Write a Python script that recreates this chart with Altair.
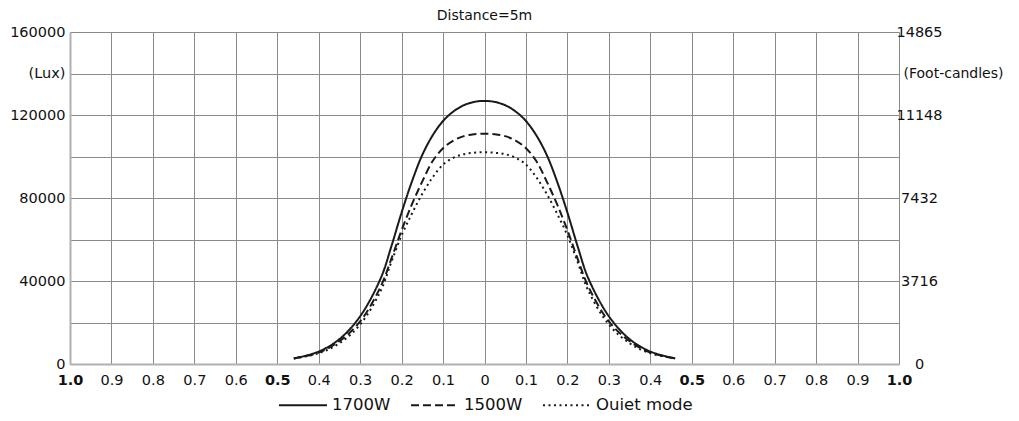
import altair as alt
import pandas as pd

title_text = "Distance=5m"
series_names = ["1700W", "1500W", "Ouiet mode"]

offset_m = [-0.46, -0.4, -0.35, -0.3, -0.25, -0.225, -0.2, -0.175, -0.15, -0.125, -0.1, -0.075, -0.05, -0.025, 0.0,
            0.025, 0.05, 0.075, 0.1, 0.125, 0.15, 0.175, 0.2, 0.225, 0.25, 0.3, 0.35, 0.4, 0.46]
lux_1700w = [2700, 6000, 12000, 23000, 41500, 56500, 73000, 88000, 100800, 110200, 117100, 121700, 124700, 126300, 126800,
             126300, 124700, 121700, 117100, 110200, 100800, 88000, 73000, 56500, 41500, 23000, 12000, 6000, 2700]
lux_1500w = [2700, 5500, 11000, 20500, 37500, 50500, 64500, 77000, 88000, 97800, 104000, 107700, 109800, 110700, 111000,
             110700, 109800, 107700, 104000, 97800, 88000, 77000, 64500, 50500, 37500, 20500, 11000, 5500, 2700]
lux_quiet = [2700, 5200, 10000, 19000, 35500, 49000, 62000, 72500, 82000, 90000, 96100, 99400, 101100, 101800, 102100,
             101800, 101100, 99400, 96100, 90000, 82000, 72500, 62000, 49000, 35500, 19000, 10000, 5200, 2700]

x_ticks = [-1.0, -0.9, -0.8, -0.7, -0.6, -0.5, -0.4, -0.3, -0.2, -0.1, 0.0,
           0.1, 0.2, 0.3, 0.4, 0.5, 0.6, 0.7, 0.8, 0.9, 1.0]
y_grid = [0, 20000, 40000, 60000, 80000, 100000, 120000, 140000, 160000]
lux_ticks = [0, 40000, 80000, 120000, 160000]
fc_labels = ["0", "3716", "7432", "11148", "14865"]
unit_value = 140000
lux_unit = "(Lux)"
fc_unit = "(Foot-candles)"

rows = []
for name, vals in zip(series_names, [lux_1700w, lux_1500w, lux_quiet]):
    for x, v in zip(offset_m, vals):
        rows.append({"series": name, "offset": x, "lux": v})
df = pd.DataFrame(rows)

FONT = "DejaVu Sans"
INK = "#1a1a1a"
LBL = "#111111"

left_expr = f"datum.value == {unit_value} ? '{lux_unit}' : (" + " || ".join(
    f"datum.value == {v}" for v in lux_ticks) + ") ? format(datum.value, 'd') : ''"
right_expr = " : ".join(
    f"datum.value == {v} ? '{l}'" for v, l in zip(lux_ticks, fc_labels)) + " : ''"

x_scale = alt.Scale(domain=[-1, 1], nice=False, zero=False)

x_enc = alt.X(
    "offset:Q",
    scale=x_scale,
    axis=alt.Axis(
        values=x_ticks, title=None, grid=True, gridColor="#8a8a8a", gridWidth=1,
        ticks=False, domain=True, domainColor="#b0b0b0", domainWidth=2,
        labelExpr="abs(datum.value) < 0.001 ? '0' : format(abs(datum.value), '.1f')",
        labelFont=FONT, labelFontSize=14.5, labelColor=LBL,
        labelFontWeight={"condition": {"test": "abs(abs(datum.value) - 1) < 0.001 || abs(abs(datum.value) - 0.5) < 0.001", "value": "bold"}, "value": "normal"},
        labelPadding=9, labelFlush=False, labelOverlap=False,
    ),
)

lines = alt.Chart(df).mark_line(interpolate="catmull-rom", color=INK, strokeWidth=2).encode(
    x=x_enc,
    y=alt.Y(
        "lux:Q",
        scale=alt.Scale(domain=[0, 160000], nice=False),
        axis=alt.Axis(
            orient="left", values=y_grid, title=None, grid=True, gridColor="#8a8a8a",
            gridWidth=1, ticks=False, domain=True, domainColor="#b0b0b0", domainWidth=2,
            labelExpr=left_expr, labelFont=FONT, labelFontSize=14.5, labelColor=LBL,
            labelPadding=5, labelFlush=False, labelOverlap=False,
        ),
    ),
    strokeDash=alt.StrokeDash(
        "series:N",
        scale=alt.Scale(domain=series_names, range=[[1, 0], [8, 4], [2, 3.5]]),
        sort=series_names,
        legend=alt.Legend(
            title=None, orient="none", legendX=208, legendY=348, direction="horizontal",
            symbolType="stroke", symbolSize=2304, symbolStrokeWidth=2,
            symbolStrokeColor=INK, labelFont=FONT, labelFontSize=16.5, labelColor=LBL,
            labelOffset=4, columnPadding=16, padding=0,
        ),
    ),
)

right_nums = alt.Chart(df).mark_line(strokeOpacity=0).encode(
    x=alt.X("offset:Q", scale=x_scale),
    y=alt.Y(
        "lux:Q",
        scale=alt.Scale(domain=[0, 160000], nice=False),
        axis=alt.Axis(
            orient="right", values=lux_ticks, title=None, grid=False,
            ticks=False, domain=False, labelExpr=right_expr, labelFont=FONT,
            labelFontSize=14.5, labelColor=LBL, labelAlign="center", labelPadding=20,
            labelFlush=False, labelOverlap=False,
        ),
    ),
)

right_unit = alt.Chart(df).mark_line(strokeOpacity=0).encode(
    x=alt.X("offset:Q", scale=x_scale),
    y=alt.Y(
        "lux:Q",
        scale=alt.Scale(domain=[0, 160000], nice=False),
        axis=alt.Axis(
            orient="right", values=[unit_value], title=None, grid=False,
            ticks=False, domain=False, labelExpr=f"'{fc_unit}'", labelFont=FONT,
            labelFontSize=14, labelColor=LBL, labelAlign="left", labelPadding=4,
            labelFlush=False, labelOverlap=False,
        ),
    ),
)

chart = (
    alt.layer(lines, right_nums, right_unit)
    .resolve_scale(y="independent")
    .properties(
        width=829, height=332,
        title=alt.TitleParams(title_text, font=FONT, fontSize=14, fontWeight="normal",
                              color=LBL, anchor="middle", offset=1),
        autosize=alt.AutoSizeParams(type="none"),
        padding={"left": 62, "top": 24, "right": 112, "bottom": 49},
    )
    .configure_view(stroke=None)
    .configure(background="white")
)

chart.save("out.html", embed_options={"renderer": "svg", "actions": False})
